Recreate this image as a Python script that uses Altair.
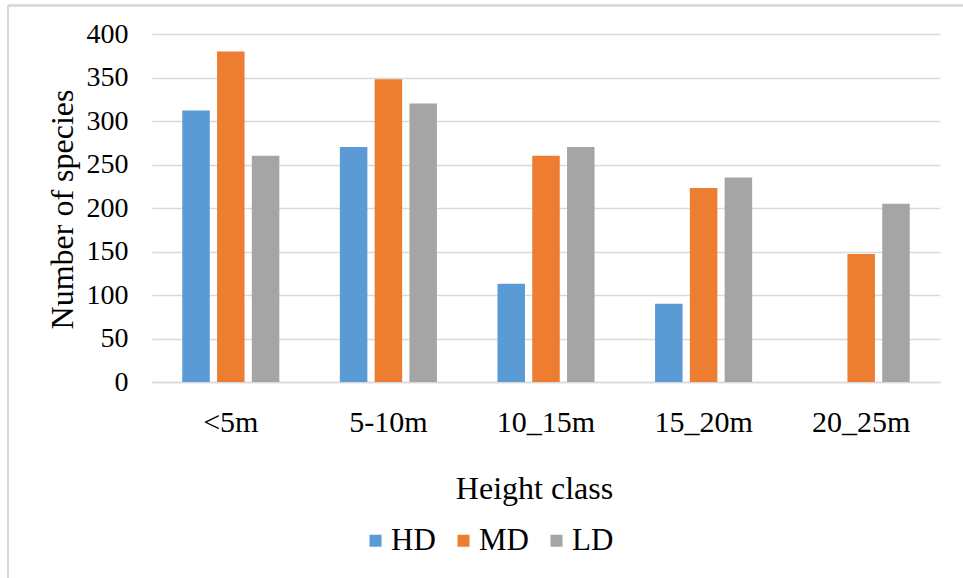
import altair as alt
import pandas as pd

# Number of species per height class, for each disturbance level
height_classes = ["<5m", "5-10m", "10_15m", "15_20m", "20_25m"]
hd_values = [312, 270, 113, 90, 0]
md_values = [380, 348, 260, 223, 147]
ld_values = [260, 320, 270, 235, 205]

groups = ["HD", "MD", "LD"]
group_colors = ["#5B9BD5", "#ED7D31", "#A5A5A5"]

y_ticks = [0, 50, 100, 150, 200, 250, 300, 350, 400]

rows = []
for g, vals in zip(groups, [hd_values, md_values, ld_values]):
    for hc, v in zip(height_classes, vals):
        rows.append({"Height class": hc, "Group": g, "Species": v})
df = pd.DataFrame(rows)

FONT = "Times New Roman, Liberation Serif, serif"
GRID = "#D9D9D9"

bars = alt.Chart(df).mark_bar().encode(
    x=alt.X(
        "Height class:N",
        sort=height_classes,
        scale=alt.Scale(paddingInner=0.384, paddingOuter=0.192),
        axis=alt.Axis(
            title="Height class",
            labelAngle=0,
            labelFont=FONT,
            labelFontSize=30,
            labelColor="#000000",
            labelBaseline="alphabetic",
            labelPadding=49,
            ticks=False,
            tickSize=0,
            domain=True,
            domainColor=GRID,
            domainWidth=1.5,
            titleFont=FONT,
            titleFontSize=32,
            titleFontWeight="normal",
            titleColor="#000000",
            titleX=382,
            titleY=116,
            titleAlign="center",
            titleBaseline="alphabetic",
        ),
    ),
    xOffset=alt.XOffset(
        "Group:N",
        sort=groups,
        scale=alt.Scale(paddingInner=0.209, paddingOuter=0),
    ),
    y=alt.Y(
        "Species:Q",
        scale=alt.Scale(domain=[0, 400], nice=False),
        axis=alt.Axis(
            title="Number of species",
            values=y_ticks,
            labelFont=FONT,
            labelFontSize=28,
            labelColor="#000000",
            labelPadding=24,
            ticks=False,
            tickSize=0,
            domain=False,
            grid=True,
            gridColor=GRID,
            gridWidth=1.5,
            titleFont=FONT,
            titleFontSize=32,
            titleFontWeight="normal",
            titleColor="#000000",
            titleAngle=270,
            titleX=-80,
            titleY=175,
            titleAlign="center",
            titleBaseline="alphabetic",
        ),
    ),
    color=alt.Color(
        "Group:N",
        sort=groups,
        scale=alt.Scale(domain=groups, range=group_colors),
        legend=alt.Legend(
            title=None,
            orient="none",
            direction="horizontal",
            legendX=208,
            legendY=491,
            padding=0,
            symbolType="square",
            symbolSize=144,
            symbolStrokeWidth=0,
            labelFont=FONT,
            labelFontSize=31,
            labelColor="#000000",
            labelOffset=0,
            columnPadding=12,
        ),
    ),
)

# light frame along the top and left edges of the figure
frame_top = alt.Chart(df).mark_rule(color=GRID, strokeWidth=1.5).encode(
    x=alt.value(-144), x2=alt.value(811), y=alt.value(-28.5)
)
frame_left = alt.Chart(df).mark_rule(color=GRID, strokeWidth=1.5).encode(
    x=alt.value(-144), y=alt.value(-29), y2=alt.value(544)
)

chart = (
    alt.layer(frame_top, frame_left, bars)
    .properties(
        width=788,
        height=348,
        autosize=alt.AutoSizeParams(type="none"),
        padding={"left": 152, "top": 34, "right": 23, "bottom": 196},
        background="#FFFFFF",
    )
    .configure(font=FONT)
    .configure_view(stroke=None)
)

chart.save("out.html", embed_options={"renderer": "svg", "actions": False})
